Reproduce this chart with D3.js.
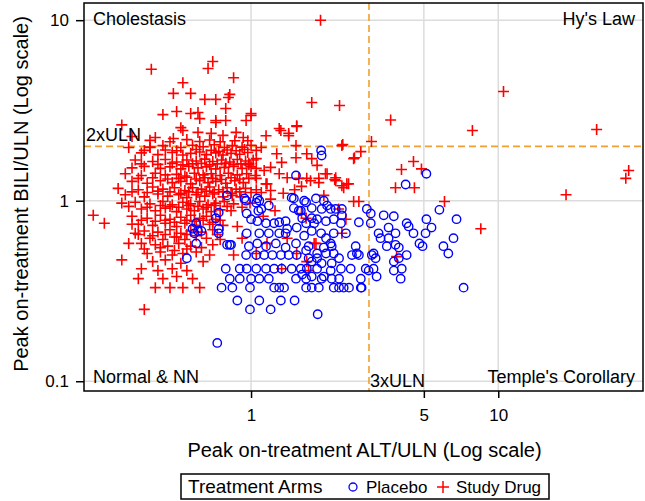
<!DOCTYPE html>
<html><head><meta charset="utf-8">
<script src="https://cdn.jsdelivr.net/npm/d3@7"></script>
<style>
body{margin:0;background:#fff}
svg{display:block}
text{font-family:Arial,"Liberation Sans",Helvetica,sans-serif;fill:#000}
</style>
</head><body>
<svg id="chart" width="645" height="501"></svg>
<script>
// ---------- data ----------
const xTicks = [1, 5, 10];
const xTickLabels = ["1", "5", "10"];
const yTicks = [0.1, 1, 10];
const yTickLabels = ["0.1", "1", "10"];
const refALT = 3;    // 3xULN
const refBILI = 2;   // 2xULN
const xTitle = "Peak on-treatment ALT/ULN (Log scale)";
const yTitle = "Peak on-treatment BILI/ULN (Log scale)";
const quadrantNames = ["Cholestasis", "Hy's Law", "Normal & NN", "Temple's Corollary"];
const legendTitle = "Treatment Arms";
const seriesNames = ["Placebo", "Study Drug"];

// Placebo: [ALT/ULN, BILI/ULN]
const placebo = [
[1.92,1.90],[1.93,1.78],[5.12,1.41],[4.22,1.23],[1.52,1.38],
[2.94,0.90],[3.05,0.85],[3.44,0.83],[3.78,0.82],[2.73,0.76],[3.05,0.75],
[3.28,0.66],[3.60,0.71],[3.84,0.66],[3.34,0.62],[3.60,0.62],[3.54,0.56],[3.84,0.57],[3.96,0.55],
[4.26,0.75],[4.34,0.72],[4.54,0.66],[5.12,0.79],[5.37,0.71],[5.08,0.66],[5.78,0.89],[6.78,0.79],
[6.59,0.62],[6.00,0.56],[6.28,0.51],[4.80,0.58],[4.94,0.56],[4.26,0.50],[3.78,0.46],[3.96,0.48],
[4.07,0.42],[3.78,0.41],[4.03,0.37],[7.24,0.33],[3.13,0.42],[2.91,0.42],[2.99,0.41],[3.22,0.38],
[3.13,0.51],[3.19,0.48],[3.08,0.50],[2.78,0.37],[2.80,0.33],[2.65,0.56],[2.68,0.51],[2.56,0.50],[2.73,0.50],
[2.53,0.42],[2.31,0.42],[2.12,0.37],[2.27,0.37],[1.93,0.37],
[1.67,0.33],[1.76,0.33],[1.88,0.33],[2.16,0.33],[2.27,0.33],[2.37,0.33],[2.49,0.33],[2.78,0.33],
[1.86,0.235],[2.33,0.83],[2.16,0.79],[2.31,0.75],[2.42,0.66],[2.16,0.66],[2.01,0.62],[2.10,0.58],[1.92,0.66],
[2.12,0.56],[1.97,0.55],[2.16,0.51],[1.85,0.51],[1.71,0.56],[1.67,0.53],[1.71,0.48],[1.85,0.48],[2.01,0.51],
[2.27,0.48],[2.12,0.45],[1.93,0.45],[1.76,0.46],[1.68,0.42],[1.85,0.42],[2.10,0.41],[1.97,0.38],[1.76,0.38],[1.61,0.39],
[1.83,1.03],[1.97,1.00],[2.03,0.94],[2.10,0.90],[1.93,0.90],[1.67,0.98],[1.59,0.88],[1.61,0.80],[1.76,0.80],[1.85,0.79],
[1.67,0.75],[1.80,0.75],[1.76,0.68],[1.64,0.64],[2.20,0.90],[2.33,0.90],
[1.49,1.03],[1.64,1.00],[0.955,1.00],[1.08,1.00],[1.18,0.94],[1.10,0.90],[1.49,0.91],[1.56,0.88],[1.76,0.91],
[0.96,0.85],[1.00,0.79],[1.06,0.77],[1.15,0.75],[1.30,0.76],[1.38,0.77],[1.40,0.70],[1.53,0.71],[2.01,0.77],
[0.60,0.75],[0.63,0.68],[0.58,0.70],[0.74,0.70],[0.80,1.07],[0.59,0.66],[0.60,0.58],[0.74,0.66],[0.83,0.57],[0.80,0.57],[0.55,0.48],
[0.96,0.66],[1.08,0.66],[1.18,0.66],[1.30,0.66],[1.38,0.66],[1.24,0.75],
[0.98,0.56],[1.06,0.58],[1.15,0.56],[1.26,0.58],[1.38,0.55],[1.52,0.58],
[0.955,0.50],[1.05,0.50],[1.13,0.50],[1.22,0.50],[1.32,0.50],[1.42,0.50],[1.53,0.50],
[0.79,0.42],[0.90,0.42],[0.96,0.42],[1.05,0.42],[1.15,0.42],[1.24,0.42],[1.33,0.42],[1.46,0.42],[1.59,0.42],
[0.82,0.37],[0.90,0.37],[1.00,0.37],[1.08,0.37],[1.18,0.37],[1.52,0.37],[1.67,0.37],
[0.76,0.33],[0.84,0.33],[0.99,0.33],[1.24,0.33],[1.30,0.33],[1.36,0.33],
[0.88,0.28],[1.08,0.28],[1.32,0.28],[1.50,0.28],[0.99,0.25],[1.20,0.25],[0.73,0.163],
[0.74,0.86],[0.72,0.80],[0.61,0.68],[0.82,0.57],[1.05,0.975],[1.07,0.88],[0.94,1.03],[1.06,1.03],[1.46,1.04]
];

// Study Drug: [ALT/ULN, BILI/ULN]
const studyDrug = [
[1.91,10.0],[10.5,4.03],[7.86,2.45],[25.0,2.48],[33.7,1.47],[32.8,1.33],[18.8,1.08],[3.67,2.80],[2.28,3.37],
[2.35,2.05],[3.07,2.13],[2.78,1.87],[2.62,1.73],[4.54,1.65],[4.06,1.49],[4.89,1.50],[3.84,1.18],[4.58,1.18],
[2.18,1.31],[2.00,1.41],[2.37,1.18],[2.44,1.24],[1.76,3.50],[8.50,0.70],[6.06,0.99],
[0.395,5.35],[0.67,5.40],[0.70,5.90],[0.85,4.80],[0.53,4.50],[0.485,3.93],[0.57,3.93],[0.65,3.64],[0.72,3.64],
[0.81,3.73],[0.82,3.88],[0.79,3.24],[0.44,3.00],[0.50,3.12],[0.57,3.04],[0.61,3.08],[0.62,2.85],[0.72,2.78],
[0.72,2.71],[0.79,2.78],[0.955,2.78],[1.00,3.04],[0.30,2.63],[0.33,2.27],[0.32,1.97],[0.41,2.24],[0.485,2.21],
[0.52,2.54],[0.53,2.45],[0.61,2.39],[0.69,2.36],[0.77,2.30],[0.87,2.39],[0.93,2.24],[0.97,2.15],[1.30,2.51],
[1.42,2.36],[1.53,2.58],[1.15,2.29],[0.39,1.97],[1.32,2.45],[1.42,2.29],[1.00,2.97],
[0.39,2.16],[0.47,2.12],[0.55,2.18],[0.62,2.13],[0.68,2.17],[0.75,2.12],[0.86,2.15],
[0.39,1.98],[0.44,2.02],[0.52,1.97],[0.58,2.03],[0.64,1.99],[0.71,2.04],[0.78,1.97],[0.84,2.02],[0.92,1.98],[1.00,2.03],[1.10,1.97],
[0.37,1.90],[0.45,1.91],[0.50,1.89],[0.60,1.92],[0.69,1.90],[0.74,1.88],[0.80,1.91],[0.87,1.89],[0.94,1.92],[1.05,1.90],
[0.36,1.84],[0.42,1.80],[0.48,1.85],[0.53,1.79],[0.57,1.83],[0.62,1.86],[0.66,1.80],[0.72,1.84],[0.77,1.79],[0.83,1.83],[0.90,1.81],[0.97,1.85],
[0.34,1.68],[0.40,1.65],[0.45,1.69],[0.50,1.64],[0.55,1.68],[0.60,1.66],[0.65,1.70],[0.70,1.65],[0.76,1.68],[0.82,1.64],[0.88,1.69],[0.95,1.66],[1.02,1.68],
[0.36,1.60],[0.42,1.59],[0.48,1.61],[0.53,1.58],[0.58,1.60],[0.63,1.61],[0.68,1.58],[0.73,1.60],[0.79,1.61],[0.85,1.59],[0.91,1.60],[0.98,1.58],
[0.33,1.52],[0.37,1.55],[0.43,1.51],[0.47,1.54],[0.52,1.50],[0.56,1.55],[0.61,1.52],[0.66,1.54],[0.72,1.50],[0.78,1.53],[0.85,1.55],[0.92,1.51],[1.00,1.54],
[0.31,1.41],[0.36,1.38],[0.41,1.42],[0.45,1.39],[0.50,1.40],[0.54,1.37],[0.59,1.42],[0.64,1.39],[0.69,1.41],[0.75,1.38],[0.81,1.42],[0.88,1.39],[0.96,1.41],[1.04,1.38],
[0.35,1.33],[0.40,1.34],[0.46,1.32],[0.51,1.33],[0.55,1.35],[0.60,1.32],[0.65,1.34],[0.70,1.33],[0.76,1.31],[0.83,1.34],[0.90,1.32],[0.98,1.33],
[0.33,1.28],[0.38,1.25],[0.43,1.29],[0.48,1.26],[0.52,1.28],[0.57,1.24],[0.62,1.29],[0.67,1.26],[0.72,1.28],[0.79,1.25],[0.86,1.29],[0.93,1.26],
[0.29,1.17],[0.35,1.15],[0.40,1.19],[0.44,1.16],[0.49,1.18],[0.54,1.14],[0.58,1.18],[0.63,1.16],[0.68,1.19],[0.74,1.15],[0.80,1.18],[0.87,1.16],[0.95,1.17],[1.05,1.15],
[0.33,1.12],[0.38,1.11],[0.42,1.13],[0.47,1.12],[0.52,1.10],[0.56,1.12],[0.61,1.11],[0.66,1.13],[0.71,1.11],[0.77,1.12],[0.83,1.10],[0.90,1.12],[1.00,1.11],
[0.31,1.08],[0.37,1.05],[0.42,1.09],[0.46,1.06],[0.51,1.08],[0.55,1.04],[0.60,1.08],[0.65,1.06],[0.70,1.09],[0.77,1.05],[0.84,1.07],[0.91,1.05],
[0.34,0.98],[0.39,0.96],[0.44,0.99],[0.48,0.95],[0.53,0.98],[0.57,0.96],[0.62,0.99],[0.67,0.95],[0.72,0.97],[0.78,0.99],[0.85,0.96],[0.99,0.97],
[0.32,0.93],[0.38,0.92],[0.43,0.94],[0.47,0.93],[0.51,0.92],[0.56,0.94],[0.61,0.93],[0.66,0.92],[0.71,0.94],[0.80,0.93],[0.92,0.92],
[0.36,0.90],[0.41,0.88],[0.45,0.91],[0.50,0.87],[0.55,0.90],[0.59,0.88],[0.64,0.90],[0.69,0.87],[0.75,0.89],[0.83,0.88],
[0.33,0.82],[0.38,0.80],[0.43,0.83],[0.47,0.79],[0.52,0.81],[0.57,0.83],[0.62,0.80],[0.66,0.82],[0.72,0.79],
[0.36,0.78],[0.41,0.77],[0.45,0.78],[0.49,0.76],[0.55,0.78],[0.59,0.77],[0.64,0.78],[0.70,0.76],[0.75,0.78],
[0.35,0.74],[0.40,0.73],[0.45,0.75],[0.50,0.72],[0.54,0.75],[0.60,0.73],[0.68,0.74],[0.77,0.73],
[0.37,0.68],[0.42,0.67],[0.47,0.69],[0.52,0.66],[0.57,0.68],[0.63,0.67],[0.70,0.69],
[0.35,0.65],[0.40,0.64],[0.45,0.65],[0.50,0.63],[0.55,0.65],[0.60,0.64],[0.73,0.65],
[0.39,0.62],[0.44,0.61],[0.49,0.63],[0.54,0.61],[0.66,0.62],[0.75,0.61],
[0.41,0.57],[0.46,0.56],[0.51,0.58],[0.57,0.56],[0.70,0.57],
[0.37,0.54],[0.43,0.55],[0.49,0.53],[0.55,0.54],[0.63,0.55],
[0.38,0.51],[0.43,0.52],[0.48,0.50],[0.53,0.51],[0.60,0.52],[0.68,0.50],
[0.40,0.46],[0.45,0.47],[0.52,0.45],[0.64,0.46],
[0.36,0.42],[0.42,0.41],[0.48,0.42],[0.55,0.41],
[0.44,0.37],[0.50,0.38],[0.58,0.37],
[0.23,0.83],[0.255,0.75],[0.30,0.97],[0.33,0.74],[0.30,0.47],[0.35,0.37],[0.41,0.33],[0.47,0.33],[0.53,0.33],
[0.62,0.33],[0.37,0.25],[0.34,0.66],[0.32,0.58],[0.36,0.58],
[1.68,1.82],[1.76,1.71],[1.85,1.57],[2.33,2.02],[2.60,1.71],[2.03,1.41],[2.20,1.29],[1.74,1.29],[1.88,1.26],
[2.33,1.21],[2.48,1.24],[1.97,1.07],[2.60,0.99],[2.73,0.99],[2.26,0.90],[2.42,0.79],[2.33,0.66],[1.60,0.85],
[1.67,0.80],[1.83,0.58],[1.71,0.41],[3.88,0.49],
[1.53,2.60],[1.52,2.02],[1.27,1.82],[1.52,1.73],[1.33,1.63],[1.05,1.71],[1.20,1.53],[1.13,1.47],[0.98,1.61],
[1.05,1.51],[1.30,1.41],[1.05,1.33],[1.40,1.34],[1.56,1.33],[1.68,1.33],[1.88,1.33],[2.20,1.34],[1.16,1.24],
[1.20,1.14],[1.10,1.11],[1.15,1.24],[1.05,0.51],[1.16,0.58],[1.33,0.42],[1.53,0.51],[1.68,0.46],[1.80,0.58],
[1.12,0.82],[1.25,0.88],[1.40,0.62],[0.88,0.72],[0.92,0.62],[0.85,0.50],[1.20,1.02],[1.35,1.10],[1.50,1.15],[1.60,1.20]
];

// ---------- chart ----------
const svg = d3.select("#chart");
const L = 84, R = 643, T = 3, B = 391;
const x = d3.scaleLog().domain([0.211, 38.5]).range([L, R]);
const y = d3.scaleLog().domain([0.0883, 12.45]).range([B, T]);

const gridColor = "#dcdcdc";
const refColor = "#f0a030";
const red = "#ff0000";
const blue = "#0000ff";

// gridlines
svg.append("g").selectAll("line").data(xTicks).join("line")
  .attr("x1", d => x(d)).attr("x2", d => x(d)).attr("y1", T).attr("y2", B)
  .attr("stroke", gridColor).attr("stroke-width", 1.5);
svg.append("g").selectAll("line").data(yTicks).join("line")
  .attr("x1", L).attr("x2", R).attr("y1", d => y(d)).attr("y2", d => y(d))
  .attr("stroke", gridColor).attr("stroke-width", 1.5);

// reference lines
svg.append("line").attr("x1", x(refALT)).attr("x2", x(refALT)).attr("y1", T).attr("y2", B)
  .attr("stroke", refColor).attr("stroke-width", 1.6).attr("stroke-dasharray", "7,4");
svg.append("line").attr("x1", L).attr("x2", R).attr("y1", y(refBILI)).attr("y2", y(refBILI))
  .attr("stroke", refColor).attr("stroke-width", 1.6).attr("stroke-dasharray", "7,4");

// points
const gP = svg.append("g");
const gD = svg.append("g");
gD.selectAll("path").data(studyDrug).join("path")
  .attr("d", d => { const px = x(d[0]), py = y(d[1]); return `M${px-5.5},${py}H${px+5.5}M${px},${py-5.5}V${py+5.5}`; })
  .attr("stroke", red).attr("stroke-width", 1.6).attr("fill", "none");
gP.selectAll("circle").data(placebo).join("circle")
  .attr("cx", d => x(d[0])).attr("cy", d => y(d[1])).attr("r", 4.2)
  .attr("fill", "none").attr("stroke", blue).attr("stroke-width", 1.4);
gP.raise();

// frame
svg.append("rect").attr("x", L).attr("y", T).attr("width", R - L).attr("height", B - T)
  .attr("fill", "none").attr("stroke", "#000").attr("stroke-width", 1.5);

// axes
const xAxis = d3.axisBottom(x).tickValues(xTicks).tickFormat((d, i) => xTickLabels[i]).tickSize(7).tickPadding(11);
const gx = svg.append("g").attr("transform", `translate(0,${B})`).call(xAxis);
gx.select(".domain").remove();
gx.selectAll(".tick line").attr("stroke", "#000").attr("stroke-width", 1.5);
gx.selectAll(".tick text").attr("font-size", 17).attr("font-family", "Arial, 'Liberation Sans', sans-serif").attr("fill", "#000");

const yAxis = d3.axisLeft(y).tickValues(yTicks).tickFormat((d, i) => yTickLabels[i]).tickSize(8).tickPadding(7);
const gy = svg.append("g").attr("transform", `translate(${L},0)`).call(yAxis);
gy.select(".domain").remove();
gy.selectAll(".tick line").attr("stroke", "#000").attr("stroke-width", 1.5);
gy.selectAll(".tick text").attr("font-size", 17).attr("font-family", "Arial, 'Liberation Sans', sans-serif").attr("fill", "#000");

// axis titles
svg.append("text").attr("x", (L + R) / 2 + 1).attr("y", 457).attr("text-anchor", "middle")
  .attr("font-size", 20).text(xTitle);
svg.append("text").attr("transform", `translate(28,${(T + B) / 2 - 3}) rotate(-90)`).attr("text-anchor", "middle")
  .attr("font-size", 20).text(yTitle);

// quadrant labels
svg.append("text").attr("x", 93).attr("y", 25).attr("font-size", 18).text(quadrantNames[0]);
svg.append("text").attr("x", 635).attr("y", 25).attr("text-anchor", "end").attr("font-size", 18).text(quadrantNames[1]);
svg.append("text").attr("x", 93).attr("y", 383).attr("font-size", 18).text(quadrantNames[2]);
svg.append("text").attr("x", 635).attr("y", 383).attr("text-anchor", "end").attr("font-size", 18).text(quadrantNames[3]);
svg.append("text").attr("x", 86).attr("y", y(refBILI) - 5).attr("font-size", 18).text(refBILI + "xULN");
svg.append("text").attr("x", x(refALT) + 1).attr("y", 387).attr("font-size", 18).text(refALT + "xULN");

// legend
const lg = svg.append("g");
lg.append("rect").attr("x", 181).attr("y", 474).attr("width", 368).attr("height", 25)
  .attr("fill", "#fff").attr("stroke", "#000").attr("stroke-width", 1.5);
lg.append("text").attr("x", 188).attr("y", 493).attr("font-size", 19).text(legendTitle);
lg.append("circle").attr("cx", 353).attr("cy", 487).attr("r", 4).attr("fill", "none").attr("stroke", blue).attr("stroke-width", 1.3);
lg.append("text").attr("x", 366).attr("y", 493).attr("font-size", 17).text(seriesNames[0]);
lg.append("path").attr("d", "M437,487H449M443,481V493").attr("stroke", red).attr("stroke-width", 1.5);
lg.append("text").attr("x", 456).attr("y", 493).attr("font-size", 17).text(seriesNames[1]);
</script>
</body></html>
